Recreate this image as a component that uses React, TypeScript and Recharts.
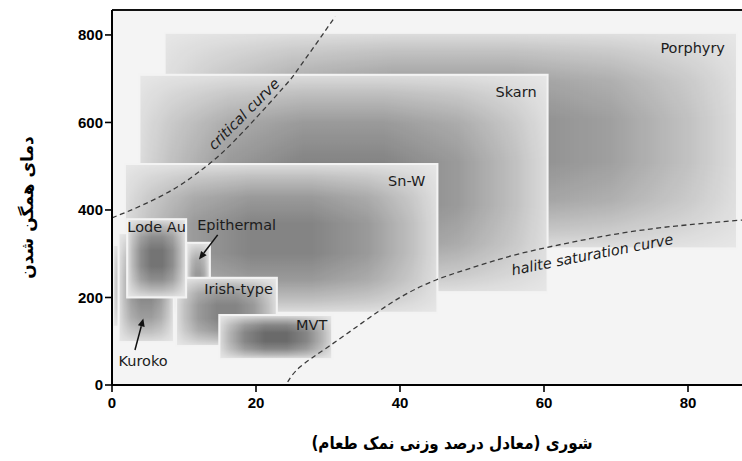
import React from 'react';
import {
  ComposedChart,
  XAxis,
  YAxis,
  Line,
  ReferenceArea,
  ReferenceLine,
  ReferenceDot,
  Label,
} from 'recharts';

// Deposit fields: salinity (wt% NaCl eq.) and homogenization temperature (°C) ranges
const depositNames = ['Porphyry', 'Skarn', 'Sn-W', '', 'Kuroko', 'Epithermal', 'Irish-type', 'Lode Au', 'MVT'];
const salinityLow = [7.3, 3.8, 1.8, 0.1, 0.9, 10.3, 8.9, 2.1, 14.9];
const salinityHigh = [86.8, 60.5, 45.2, 1.6, 8.6, 13.6, 22.9, 10.3, 30.6];
const tempLow = [312, 212, 165, 133, 98, 150, 89, 200, 59];
const tempHigh = [805, 709, 505, 320, 347, 325, 245, 379, 160];

// Critical curve of the H2O-NaCl system
const criticalSalinity = [0, 4.35, 9.0, 12.7, 15.9, 20.6, 24.3, 25.6, 28.4, 31.0];
const criticalTemp = [382, 412, 452, 495, 540, 621, 689, 716, 781, 842];

// Halite saturation curve
const haliteSalinity = [24.4, 26.1, 30, 35, 40, 45, 50, 55, 60, 65, 70, 75, 80, 87.5];
const haliteTemp = [7, 41, 87, 145, 200, 240, 268, 293, 313, 330, 345, 357, 366, 377];

// Axis ticks and titles
const salinityTicks = [0, 20, 40, 60, 80];
const tempTicks = [0, 200, 400, 600, 800];
const xTitle = 'شوری (معادل درصد وزنی نمک طعام)';
const yTitle = 'دمای همگن شدن';

// Annotation arrows (tail -> head) and curve captions
const arrowTails = [{ x: 14.68, y: 343 }, { x: 3.19, y: 80 }];
const arrowHeads = [{ x: 12.08, y: 287 }, { x: 4.35, y: 152 }];
const curveCaptions = ['critical curve', 'halite saturation curve'];
const captionAnchors = [{ x: 18.3, y: 619 }, { x: 66.7, y: 298 }];

const X_MAX = 87.5;
const Y_MAX = 857;

const criticalData = criticalSalinity.map((x, i) => ({ x, y: criticalTemp[i] }));
const haliteData = haliteSalinity.map((x, i) => ({ x, y: haliteTemp[i] }));

// Shading depth (max darkness) of each field
const shadeDepth: Record<string, number> = {
  Porphyry: 0.4,
  Skarn: 0.43,
  'Sn-W': 0.43,
  '': 0.14,
  Kuroko: 0.41,
  Epithermal: 0.34,
  'Irish-type': 0.43,
  'Lode Au': 0.5,
  MVT: 0.54,
};

type Placement = { anchor: 'start' | 'middle' | 'end'; from: 'left' | 'right' | 'center'; dx: number; dy: number };
const labelPlacement: Record<string, Placement> = {
  Porphyry: { anchor: 'end', from: 'right', dx: -12, dy: 15 },
  Skarn: { anchor: 'end', from: 'right', dx: -11, dy: 17 },
  'Sn-W': { anchor: 'end', from: 'right', dx: -12, dy: 17 },
  'Irish-type': { anchor: 'end', from: 'right', dx: -4, dy: 11 },
  MVT: { anchor: 'end', from: 'right', dx: -5, dy: 10 },
  'Lode Au': { anchor: 'middle', from: 'center', dx: 0, dy: 8 },
  Epithermal: { anchor: 'start', from: 'left', dx: 11, dy: -18 },
  Kuroko: { anchor: 'start', from: 'left', dx: 0, dy: 128 },
};

const LABEL_FONT = "'DejaVu Sans', Verdana, sans-serif";
const TICK_FONT = "'Liberation Sans', Arial, sans-serif";
const TITLE_FONT = "'DejaVu Sans', 'Noto Sans', sans-serif";
const LABEL_SIZE = 14.5;

const profileOffsets = [0, 0.08, 0.22, 0.4, 0.6, 0.78, 0.92, 1];
const profileValues = [0.12, 0.4, 0.78, 1, 1, 0.78, 0.4, 0.12];

const GradientDefs = () => (
  <svg width={0} height={0} style={{ position: 'absolute' }} aria-hidden="true">
    <defs>
      <linearGradient id="fadeV" x1="0" y1="0" x2="0" y2="1">
        {profileOffsets.map((o, i) => {
          const v = Math.round(profileValues[i] * 255);
          return <stop key={i} offset={o} stopColor={`rgb(${v},${v},${v})`} />;
        })}
      </linearGradient>
      <mask id="maskV" maskContentUnits="objectBoundingBox">
        <rect x={0} y={0} width={1} height={1} fill="url(#fadeV)" />
      </mask>
      {depositNames.map((name, k) => (
        <linearGradient key={k} id={`fadeH-${k}`} x1="0" y1="0" x2="1" y2="0">
          {profileOffsets.map((o, i) => (
            <stop key={i} offset={o} stopColor="#000" stopOpacity={profileValues[i] * shadeDepth[name]} />
          ))}
        </linearGradient>
      ))}
    </defs>
  </svg>
);

const makeFieldShape = (k: number) => (props: any) => {
  const { x, y, width, height } = props;
  if (x == null || width == null) return null;
  const name = depositNames[k];
  const p = labelPlacement[name];
  let tx = x;
  if (p) {
    tx = p.from === 'left' ? x + p.dx : p.from === 'right' ? x + width + p.dx : x + width / 2 + p.dx;
  }
  return (
    <g>
      <rect x={x} y={y} width={width} height={height} fill="#e8e8e8" stroke="#f3f3f3" strokeWidth={2} />
      <rect x={x + 1} y={y + 1} width={Math.max(width - 2, 0)} height={Math.max(height - 2, 0)} fill={`url(#fadeH-${k})`} mask="url(#maskV)" />
      {p && name ? (
        <text
          x={tx}
          y={y + p.dy}
          textAnchor={p.anchor}
          dominantBaseline="central"
          fontFamily={LABEL_FONT}
          fontSize={LABEL_SIZE}
          fill="#1c1c1c"
        >
          {name}
        </text>
      ) : null}
    </g>
  );
};

const ArrowShape = (props: any) => {
  const { x1, y1, x2, y2 } = props;
  if (x1 == null) return null;
  const ang = Math.atan2(y2 - y1, x2 - x1);
  const len = 8;
  const half = 3.5;
  const bx = x2 - len * Math.cos(ang);
  const by = y2 - len * Math.sin(ang);
  const px = -Math.sin(ang) * half;
  const py = Math.cos(ang) * half;
  return (
    <g>
      <line x1={x1} y1={y1} x2={bx} y2={by} stroke="#111" strokeWidth={1.5} />
      <polygon points={`${x2},${y2} ${bx + px},${by + py} ${bx - px},${by - py}`} fill="#111" />
    </g>
  );
};

const captionAngles = [-45, -11];

const makeCaption = (k: number) => (props: any) => {
  const { cx, cy } = props;
  if (cx == null) return null;
  return (
    <text
      x={cx}
      y={cy}
      textAnchor="middle"
      dominantBaseline="central"
      transform={`rotate(${captionAngles[k]}, ${cx}, ${cy})`}
      fontFamily={LABEL_FONT}
      fontStyle="italic"
      fontSize={LABEL_SIZE}
      fill="#1c1c1c"
    >
      {curveCaptions[k]}
    </text>
  );
};

const XTitle = (props: any) => {
  const vb = props.viewBox || {};
  const cx = vb.x + vb.width / 2 + 25;
  const cy = vb.y + 58;
  return (
    <text
      x={0}
      y={0}
      transform={`translate(${cx}, ${cy}) scale(0.89, 1)`}
      textAnchor="middle"
      dominantBaseline="central"
      fontFamily={TITLE_FONT}
      fontWeight="bold"
      fontSize={17}
      fill="#000"
      direction="rtl"
    >
      {xTitle}
    </text>
  );
};

const YTitle = (props: any) => {
  const vb = props.viewBox || {};
  const cx = vb.x + 27;
  const cy = vb.y + vb.height / 2 + 10;
  return (
    <text
      x={cx}
      y={cy}
      textAnchor="middle"
      dominantBaseline="central"
      transform={`rotate(-90, ${cx}, ${cy})`}
      fontFamily={TITLE_FONT}
      fontWeight="bold"
      fontSize={17}
      fill="#000"
      direction="rtl"
    >
      {yTitle}
    </text>
  );
};

const tickStyle = { fill: '#000', fontSize: 15, fontFamily: TICK_FONT, fontWeight: 'bold' as const };

export default function App() {
  return (
    <div style={{ width: 742, height: 461, background: '#fff' }}>
      <style>{'body{margin:0}'}</style>
      <GradientDefs />
      <ComposedChart width={742} height={461} margin={{ top: 10, right: 0, bottom: 0, left: 0 }}>
        <XAxis
          type="number"
          dataKey="x"
          domain={[0, X_MAX]}
          ticks={salinityTicks}
          allowDataOverflow
          height={76}
          tickSize={7}
          tickMargin={5}
          tick={tickStyle}
          axisLine={{ stroke: '#000', strokeWidth: 2 }}
          tickLine={{ stroke: '#000', strokeWidth: 1.6 }}
        >
          <Label content={<XTitle />} />
        </XAxis>
        <YAxis
          type="number"
          domain={[0, Y_MAX]}
          ticks={tempTicks}
          allowDataOverflow
          width={112}
          tickSize={7}
          tickMargin={2}
          tick={tickStyle}
          axisLine={{ stroke: '#000', strokeWidth: 2 }}
          tickLine={{ stroke: '#000', strokeWidth: 1.6 }}
        >
          <Label content={<YTitle />} />
        </YAxis>

        <ReferenceArea x1={0} x2={X_MAX} y1={0} y2={Y_MAX} fill="#f4f4f4" fillOpacity={1} stroke="none" />
        <ReferenceLine y={Y_MAX} stroke="#111" strokeWidth={2} />

        {depositNames.map((name, k) => (
          <ReferenceArea
            key={`field-${k}`}
            x1={salinityLow[k]}
            x2={salinityHigh[k]}
            y1={tempLow[k]}
            y2={tempHigh[k]}
            shape={makeFieldShape(k)}
          />
        ))}

        <Line
          data={criticalData}
          dataKey="y"
          type="natural"
          stroke="#3a3a3a"
          strokeWidth={1.3}
          strokeDasharray="5 3.5"
          dot={false}
          activeDot={false}
          isAnimationActive={false}
        />
        <Line
          data={haliteData}
          dataKey="y"
          type="natural"
          stroke="#3a3a3a"
          strokeWidth={1.3}
          strokeDasharray="5 3.5"
          dot={false}
          activeDot={false}
          isAnimationActive={false}
        />

        {arrowTails.map((t, k) => (
          <ReferenceLine key={`arrow-${k}`} segment={[t, arrowHeads[k]]} shape={ArrowShape} />
        ))}

        {captionAnchors.map((a, k) => (
          <ReferenceDot key={`cap-${k}`} x={a.x} y={a.y} r={1} shape={makeCaption(k)} />
        ))}
      </ComposedChart>
    </div>
  );
}
